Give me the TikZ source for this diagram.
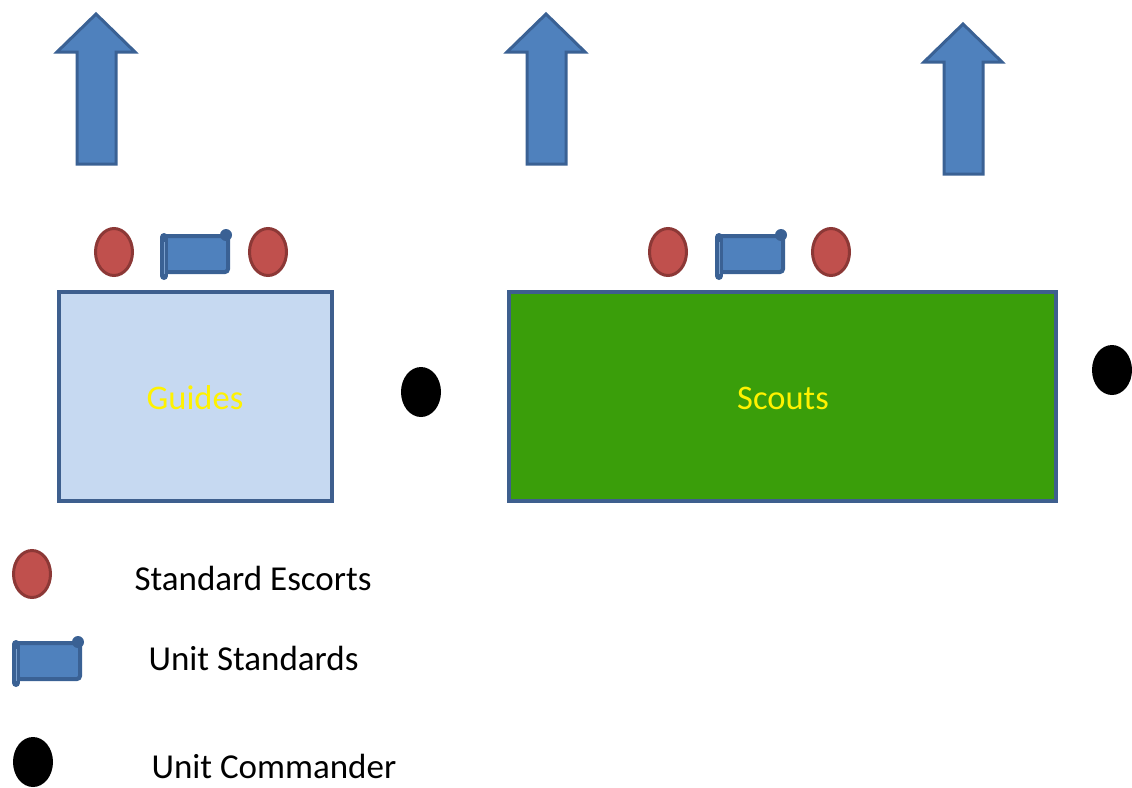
\documentclass[tikz,border=0pt]{standalone}
\usepackage{fontspec}
\setmainfont{Carlito}
\usetikzlibrary{shapes.geometric}
\definecolor{offblue}{HTML}{4F81BD}
\definecolor{offbluedk}{HTML}{3A6194}
\definecolor{offred}{HTML}{C0504D}
\definecolor{offreddk}{HTML}{8C3836}
\definecolor{lightbox}{HTML}{C6D9F1}
\definecolor{boxedge}{HTML}{3E5F8E}
\definecolor{scoutgreen}{HTML}{3A9E0A}
\tikzset{
  escort/.style={ellipse, draw=offreddk, fill=offred, line width=3pt, minimum width=37pt, minimum height=47pt, inner sep=0pt},
  commander/.style={ellipse, fill=black, minimum width=40pt, minimum height=50pt, inner sep=0pt},
  unitbox/.style={draw=boxedge, line width=3.4pt},
  boxlabel/.style={text=yellow, font=\fontsize{34.5}{40}\selectfont},
  legendtext/.style={anchor=west, text=black, font=\fontsize{35}{42}\selectfont},
  pics/bigarrow/.style={code={
    \draw[fill=offblue, draw=offbluedk, line width=3pt, line join=miter]
      (0,0) -- (39,38) -- (20,38) -- (20,150) -- (-19,150) -- (-19,38) -- (-39,38) -- cycle;
  }},
  pics/standard/.style={code={
    \draw[fill=offblue, draw=offbluedk, line width=4pt, rounded corners=3pt] (1,4) rectangle (64,40);
    \draw[offbluedk, line width=8pt, line cap=round] (0,5) -- (0,44);
    \draw[offblue!75!white, line width=1.5pt] (0.5,10) -- (0.5,42);
    \fill[offbluedk] (62,3) circle (6pt);
  }}
}
\begin{document}
\begin{tikzpicture}[x=1pt,y=-1pt]
\useasboundingbox (0,0) rectangle (1132,787);

% arrows
\pic at (96,14) {bigarrow};
\pic at (546,14) {bigarrow};
\pic at (963,24) {bigarrow};

% Guides group
\node[escort] (g1) at (114,252) {};
\pic at (164,232) {standard};
\node[escort] (g2) at (268,252) {};
\draw[unitbox, fill=lightbox] (59,292) rectangle (332,501);
\node[boxlabel] (guides) at (195,398) {Guides};
\node[commander] (c1) at (421,392) {};

% Scouts group
\node[escort] (s1) at (668,252) {};
\pic at (719,232) {standard};
\node[escort] (s2) at (831,252) {};
\draw[unitbox, fill=scoutgreen] (509,292) rectangle (1056,501);
\node[boxlabel] (scouts) at (783,398) {Scouts};
\node[commander] (c2) at (1112,370) {};

% legend
\node[escort] (l1) at (32,574) {};
\node[legendtext] (lt1) at (131,578) {Standard Escorts};
\pic at (16,639) {standard};
\node[legendtext] (lt2) at (145,658) {Unit Standards};
\node[commander] (l3) at (33,762) {};
\node[legendtext] (lt3) at (148,766) {Unit Commander};
\end{tikzpicture}
\end{document}
